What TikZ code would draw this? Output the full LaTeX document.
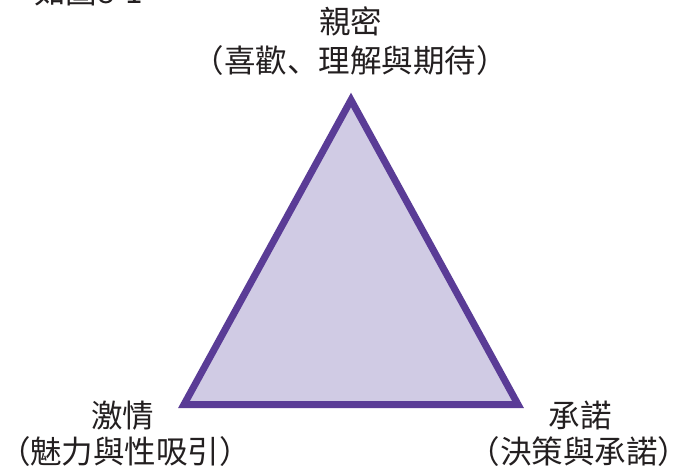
\documentclass[tikz,border=0pt]{standalone}
\usepackage{fontspec}
\newfontfamily\cjk[Kerning=Off]{Noto Sans CJK TC}
\newfontfamily\cjkjp[Kerning=Off]{Noto Sans CJK JP}
\definecolor{edgepurple}{RGB}{90,60,150}
\definecolor{fillpurple}{RGB}{208,203,228}
\definecolor{textdark}{RGB}{35,31,32}
\newcommand\lpar{\makebox[1em][r]{\cjkjp （}}
\newcommand\rpar{\makebox[1em][l]{\cjkjp ）}}
\newcommand\dun{\makebox[1em][l]{\cjkjp 、}}
\begin{document}
\begin{tikzpicture}[x=1pt,y=1pt,
  lbl/.style={anchor=base,inner sep=0pt,text=textdark,font=\cjk\fontsize{31.5}{36}\selectfont}]
\clip (0,0) rectangle (675,-470);
\fill[white] (0,0) rectangle (675,-470);
% title (cut off at top, as in the reference)
\node[lbl,anchor=base west] (title) at (34,-4) {如圖8-1};
% triangle
\coordinate (A) at (351,-100);
\coordinate (B) at (184,-404.5);
\coordinate (C) at (518,-404.5);
\filldraw[fill=fillpurple,draw=edgepurple,line width=7pt,line join=miter] (A) -- (B) -- (C) -- cycle;
% labels
\node[lbl] (top1) at (350.5,-33.5) {親密};
\node[lbl] (top2) at (350,-73) {\lpar 喜歡\dun 理解與期待\rpar};
\node[lbl] (left1) at (122.5,-427) {激情};
\node[lbl] (left2) at (125,-463) {\lpar 魅力與性吸引\rpar};
\node[lbl] (right1) at (580,-427) {承諾};
\node[lbl] (right2) at (579,-463) {\lpar 決策與承諾\rpar};
\end{tikzpicture}
\end{document}
